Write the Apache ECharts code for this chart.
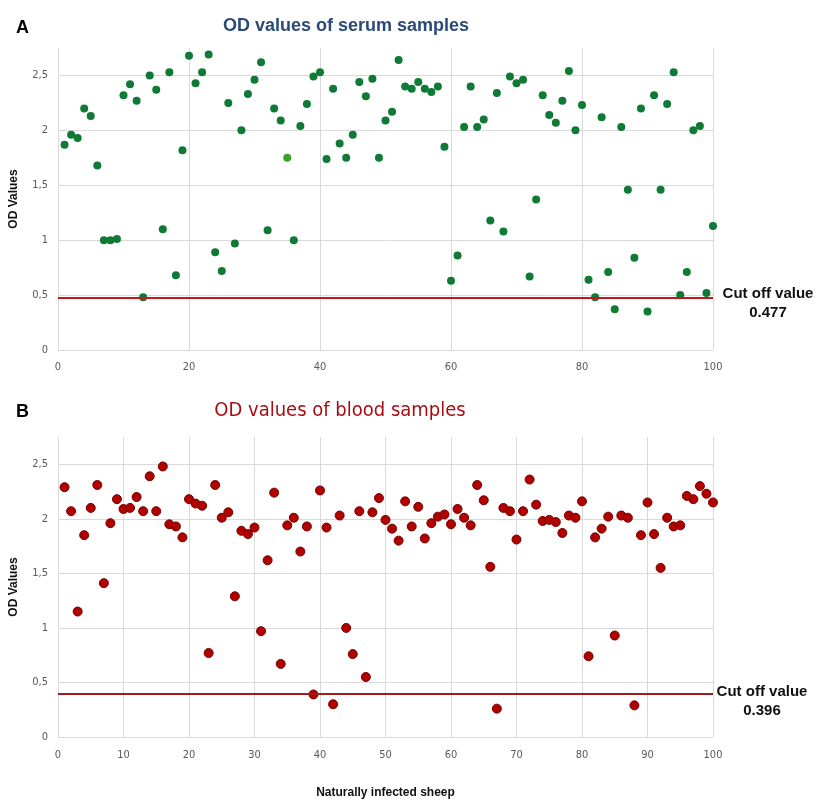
<!DOCTYPE html>
<html>
<head>
<meta charset="utf-8">
<script src="https://cdn.jsdelivr.net/npm/echarts@6/dist/echarts.min.js"></script>
<style>
html,body{margin:0;padding:0;background:#fff;}
#chart{width:816px;height:801px;}
</style>
</head>
<body>
<div id="chart"></div>
<script>
// ---- data ----
const sampleIds = Array.from({length: 100}, (_, i) => i + 1);
const serumOD = [1.87,1.96,1.93,2.2,2.13,1.68,1.0,1.0,1.01,2.32,
  2.42,2.27,0.48,2.5,2.37,1.1,2.53,0.68,1.82,2.68,
  2.43,2.53,2.69,0.89,0.72,2.25,0.97,2.0,2.33,2.46,
  2.62,1.09,2.2,2.09,1.75,1.0,2.04,2.24,2.49,2.53,
  1.74,2.38,1.88,1.75,1.96,2.44,2.31,2.47,1.75,2.09,
  2.17,2.64,2.4,2.38,2.44,2.38,2.35,2.4,1.85,0.63,
  0.86,2.03,2.4,2.03,2.1,1.18,2.34,1.08,2.49,2.43,
  2.46,0.67,1.37,2.32,2.14,2.07,2.27,2.54,2.0,2.23,
  0.64,0.48,2.12,0.71,0.37,2.03,1.46,0.84,2.2,0.35,
  2.32,1.46,2.24,2.53,0.5,0.71,2.0,2.04,0.52,1.13];
const bloodOD = [2.29,2.07,1.15,1.85,2.1,2.31,1.41,1.96,2.18,2.09,
  2.1,2.2,2.07,2.39,2.07,2.48,1.95,1.93,1.83,2.18,
  2.14,2.12,0.77,2.31,2.01,2.06,1.29,1.89,1.86,1.92,
  0.97,1.62,2.24,0.67,1.94,2.01,1.7,1.93,0.39,2.26,
  1.92,0.3,2.03,1.0,0.76,2.07,0.55,2.06,2.19,1.99,
  1.91,1.8,2.16,1.93,2.11,1.82,1.96,2.02,2.04,1.95,
  2.09,2.01,1.94,2.31,2.17,1.56,0.26,2.1,2.07,1.81,
  2.07,2.36,2.13,1.98,1.99,1.97,1.87,2.03,2.01,2.16,
  0.74,1.83,1.91,2.02,0.93,2.03,2.01,0.29,1.85,2.15,
  1.86,1.55,2.01,1.93,1.94,2.21,2.18,2.3,2.23,2.15];
const highlightedSerum = [35]; // lighter green point
const cutoffSerum = 0.477;
const cutoffBlood = 0.396;
const yTicks = [0, 0.5, 1, 1.5, 2, 2.5];
const xTicksA = [0, 20, 40, 60, 80, 100];
const xTicksB = [0, 10, 20, 30, 40, 50, 60, 70, 80, 90, 100];

// ---- chart ----
const narrow = "'Liberation Sans Narrow', 'DejaVu Sans Condensed', 'Liberation Sans', sans-serif";
const sans = "'Liberation Sans', Arial, sans-serif";
const gridColor = '#d9d9d9';
const tickLabel = {color: '#595959', fontSize: 11, fontFamily: narrow};
const fmtComma = v => String(v).replace('.', ',');

const chart = echarts.init(document.getElementById('chart'), null, {renderer: 'canvas'});

function yAxisCfg(gi) {
  return {
    gridIndex: gi, type: 'value', min: 0, max: 2.75, interval: 0.5,
    name: 'OD Values', nameLocation: 'middle', nameGap: 38, nameRotate: 90,
    nameTextStyle: {fontWeight: 'bold', fontSize: 12, color: '#111', fontFamily: sans},
    axisLine: {show: false}, axisTick: {show: false},
    axisLabel: Object.assign({margin: 10, showMaxLabel: false,
      formatter: v => yTicks.includes(v) ? fmtComma(v) : ''}, tickLabel),
    splitLine: {show: true, showMaxLine: false, lineStyle: {color: gridColor, width: 1}}
  };
}

const serumData = sampleIds.map((id, i) => {
  const d = {value: [id, serumOD[i]]};
  if (highlightedSerum.includes(id)) d.itemStyle = {color: '#3aa32a'};
  return d;
});
const bloodData = sampleIds.map((id, i) => [id, bloodOD[i]]);

const option = {
  backgroundColor: '#fff',
  animation: false,
  title: [
    {text: 'A', left: 11, top: 14, textStyle: {fontSize: 18, fontWeight: 'bold', color: '#000', fontFamily: sans}},
    {text: 'B', left: 11, top: 398, textStyle: {fontSize: 18, fontWeight: 'bold', color: '#000', fontFamily: sans}},
    {text: 'OD values of serum samples', left: 341, textAlign: 'center', top: 12,
      textStyle: {fontSize: 18, fontWeight: 'bold', color: '#2b4a78', fontFamily: sans}},
    {text: 'OD values of blood samples', left: 335, textAlign: 'center', top: 396,
      textStyle: {fontSize: 20, fontWeight: 'normal', color: '#a80d12', fontFamily: narrow}},
    {text: 'Cut off value\n' + cutoffSerum, left: 763, textAlign: 'center', top: 279,
      textStyle: {fontSize: 15, fontWeight: 'bold', color: '#111', fontFamily: sans, lineHeight: 19, align: 'center'}},
    {text: 'Cut off value\n' + cutoffBlood, left: 757, textAlign: 'center', top: 677,
      textStyle: {fontSize: 15, fontWeight: 'bold', color: '#111', fontFamily: sans, lineHeight: 19, align: 'center'}}
  ],
  grid: [
    {left: 58, top: 48, width: 655, height: 302, containLabel: false},
    {left: 58, top: 437, width: 655, height: 300, containLabel: false}
  ],
  xAxis: [
    {gridIndex: 0, type: 'value', min: 0, max: 100, interval: 20,
      axisLine: {show: false}, axisTick: {show: false},
      axisLabel: Object.assign({margin: 12, formatter: v => xTicksA.includes(v) ? String(v) : ''}, tickLabel),
      splitLine: {show: true, lineStyle: {color: gridColor, width: 1}}},
    {gridIndex: 1, type: 'value', min: 0, max: 100, interval: 10,
      name: 'Naturally infected sheep', nameLocation: 'middle', nameGap: 50,
      nameTextStyle: {fontWeight: 'bold', fontSize: 12, color: '#111', fontFamily: sans},
      axisLine: {show: false}, axisTick: {show: false},
      axisLabel: Object.assign({margin: 13, formatter: v => xTicksB.includes(v) ? String(v) : ''}, tickLabel),
      splitLine: {show: true, lineStyle: {color: gridColor, width: 1}}}
  ],
  yAxis: [yAxisCfg(0), yAxisCfg(1)],
  series: [
    {type: 'scatter', xAxisIndex: 0, yAxisIndex: 0, data: serumData, symbolSize: 8,
      itemStyle: {color: '#0f7a36', opacity: 1},
      markLine: {silent: true, symbol: 'none', label: {show: false},
        lineStyle: {color: '#c8161d', width: 2, type: 'solid'},
        data: [{yAxis: cutoffSerum}]}},
    {type: 'scatter', xAxisIndex: 1, yAxisIndex: 1, data: bloodData, symbolSize: 9,
      itemStyle: {color: '#b00000', borderColor: '#780000', borderWidth: 1, opacity: 1},
      markLine: {silent: true, symbol: 'none', label: {show: false},
        lineStyle: {color: '#9e1b1e', width: 2, type: 'solid'},
        data: [{yAxis: cutoffBlood}]}}
  ]
};
chart.setOption(option);
</script>
</body>
</html>
